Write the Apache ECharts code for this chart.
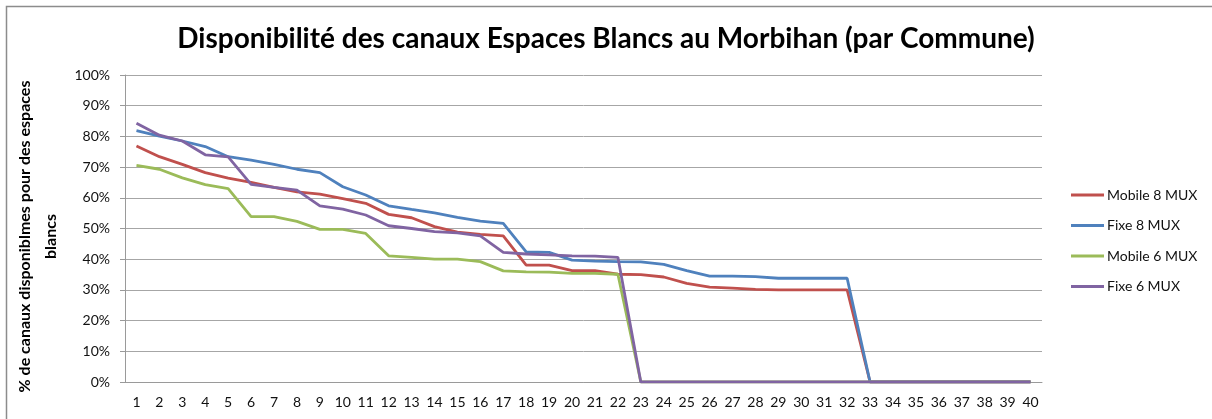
<!DOCTYPE html>
<html>
<head>
<meta charset="utf-8">
<style>
  html, body { margin: 0; padding: 0; background: #fff; }
  #chart { width: 1212px; height: 419px; }
</style>
<script src="https://cdn.jsdelivr.net/npm/echarts@6/dist/echarts.min.js"></script>
</head>
<body>
<div id="chart"></div>
<script>
// communes 1..40
var categories = [];
for (var i = 1; i <= 40; i++) categories.push(String(i));

var yTicks = ['0%', '10%', '20%', '30%', '40%', '50%', '60%', '70%', '80%', '90%', '100%'];

var mobile8 = [76.9, 73.4, 70.9, 68.2, 66.4, 65.0, 63.4, 61.9, 61.2, 59.7,
               58.2, 54.6, 53.5, 50.6, 48.8, 48.1, 47.6, 38.1, 38.1, 36.3,
               36.3, 35.1, 35.0, 34.2, 32.1, 30.9, 30.6, 30.2, 30.0, 30.0,
               30.0, 30.0, 0, 0, 0, 0, 0, 0, 0, 0];
var fixe8 = [81.9, 80.1, 78.5, 76.7, 73.4, 72.3, 70.9, 69.3, 68.2, 63.6,
             60.9, 57.4, 56.2, 55.1, 53.6, 52.4, 51.7, 42.4, 42.2, 39.7,
             39.4, 39.2, 39.1, 38.3, 36.3, 34.5, 34.5, 34.3, 33.8, 33.8,
             33.8, 33.8, 0, 0, 0, 0, 0, 0, 0, 0];
var mobile6 = [70.6, 69.3, 66.5, 64.3, 63.0, 53.9, 53.9, 52.3, 49.7, 49.7,
               48.4, 41.1, 40.6, 40.0, 40.0, 39.2, 36.2, 35.9, 35.8, 35.4,
               35.4, 35.1, 0, 0, 0, 0, 0, 0, 0, 0,
               0, 0, 0, 0, 0, 0, 0, 0, 0, 0];
var fixe6 = [84.3, 80.4, 78.5, 74.0, 73.3, 64.4, 63.4, 62.5, 57.4, 56.3,
             54.4, 50.9, 50.0, 49.0, 48.6, 47.6, 42.2, 41.7, 41.4, 41.1,
             41.0, 40.6, 0, 0, 0, 0, 0, 0, 0, 0,
             0, 0, 0, 0, 0, 0, 0, 0, 0, 0];

var myChart = echarts.init(document.getElementById('chart'));

function serie(name, data, color) {
    return {
        name: name,
        type: 'line',
        data: data,
        symbol: 'none',
        lineStyle: { color: color, width: 2.8 },
        itemStyle: { color: color },
        animation: false
    };
}

var option = {
    backgroundColor: '#fff',
    textStyle: { fontFamily: 'Lato, "Open Sans", sans-serif' },
    title: {
        text: 'Disponibilité des canaux Espaces Blancs au Morbihan (par Commune)',
        left: 'center',
        top: 20,
        textStyle: { fontSize: 28, fontWeight: 'bold', color: '#000', fontFamily: 'Lato, "Open Sans", sans-serif' }
    },
    legend: {
        orient: 'vertical',
        left: 1066,
        top: 183,
        icon: 'rect',
        itemWidth: 33,
        itemHeight: 3,
        itemGap: 16.5,
        textStyle: { fontSize: 14, color: '#111', padding: [0, 0, 0, -2] },
        data: ['Mobile 8 MUX', 'Fixe 8 MUX', 'Mobile 6 MUX', 'Fixe 6 MUX']
    },
    grid: { left: 125, right: 170, top: 75, bottom: 37 },
    xAxis: {
        type: 'category',
        data: categories,
        boundaryGap: true,
        axisLine: { lineStyle: { color: '#9a9a9a', width: 1 } },
        axisTick: { show: false },
        axisLabel: { color: '#111', fontSize: 14, margin: 13, interval: 0 }
    },
    yAxis: {
        type: 'value',
        min: 0,
        max: 100,
        interval: 10,
        name: '% de canaux disponiblmes pour des espaces\nblancs',
        nameLocation: 'middle',
        nameGap: 57,
        nameTextStyle: { fontSize: 16, fontWeight: 'bold', color: '#000', lineHeight: 26, padding: [0, 16, 0, 0] },
        axisLine: { show: true, lineStyle: { color: '#9a9a9a', width: 1 } },
        axisTick: { show: true, length: 5, lineStyle: { color: '#9a9a9a' } },
        axisLabel: {
            color: '#111', fontSize: 14, margin: 15,
            formatter: function (v) { return yTicks[Math.round(v / 10)]; }
        },
        splitLine: { lineStyle: { color: '#a6a6a6', width: 1 } }
    },
    graphic: [{
        type: 'rect',
        shape: { x: 6.5, y: 6.5, width: 1230, height: 430 },
        style: { fill: null, stroke: '#8c8c8c', lineWidth: 1.5 },
        silent: true
    }],
    series: [
        serie('Mobile 8 MUX', mobile8, '#C0504D'),
        serie('Fixe 8 MUX', fixe8, '#4F81BD'),
        serie('Mobile 6 MUX', mobile6, '#9BBB59'),
        serie('Fixe 6 MUX', fixe6, '#8064A2')
    ]
};

myChart.setOption(option);
</script>
</body>
</html>
